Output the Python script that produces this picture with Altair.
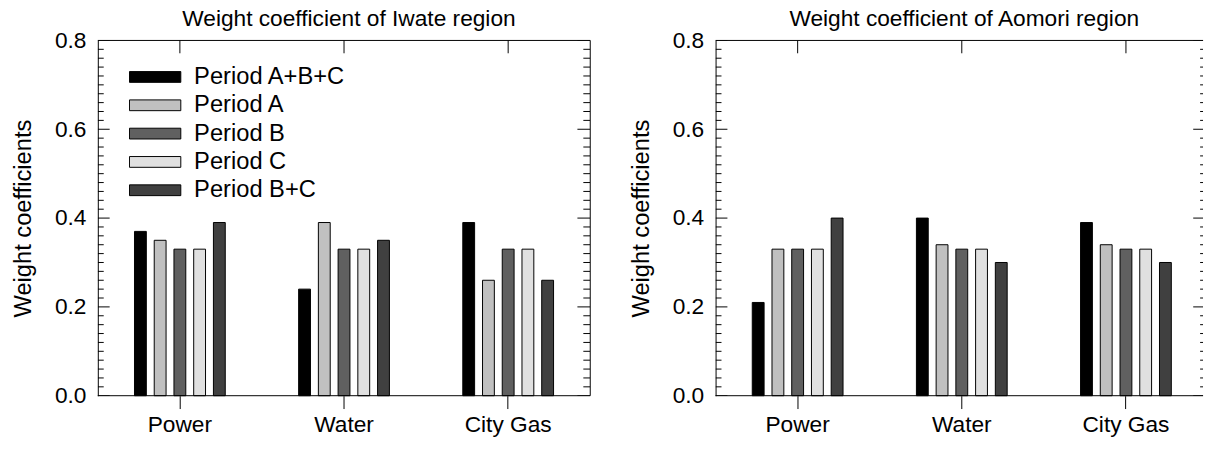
import altair as alt
import pandas as pd

# ---------------- data ----------------
categories = ["Power", "Water", "City Gas"]
periods = ["Period A+B+C", "Period A", "Period B", "Period C", "Period B+C"]
bar_colors = ["#000000", "#c0c0c0", "#606060", "#e0e0e0", "#404040"]

iwate_abc = [0.37, 0.24, 0.39]
iwate_a = [0.35, 0.39, 0.26]
iwate_b = [0.33, 0.33, 0.33]
iwate_c = [0.33, 0.33, 0.33]
iwate_bc = [0.39, 0.35, 0.26]

aomori_abc = [0.21, 0.40, 0.39]
aomori_a = [0.33, 0.34, 0.34]
aomori_b = [0.33, 0.33, 0.33]
aomori_c = [0.33, 0.33, 0.33]
aomori_bc = [0.40, 0.30, 0.30]

y_labels = [0.0, 0.2, 0.4, 0.6, 0.8]
minor_ticks = [round(i * 0.02, 2) for i in range(41) if i % 10 != 0]

FONT = "Liberation Sans"
FS = 23
PW = 499  # band range width of a panel
PH = 360


def table(series):
    rows = []
    for period, vals in zip(periods, series):
        for cat, v in zip(categories, vals):
            rows.append({"category": cat, "period": period, "value": v})
    return pd.DataFrame(rows)


iwate = table([iwate_abc, iwate_a, iwate_b, iwate_c, iwate_bc])
aomori = table([aomori_abc, aomori_a, aomori_b, aomori_c, aomori_bc])

y_scale = alt.Scale(domain=[0, 0.8], nice=False, zero=True)
x_scale = alt.Scale(domain=categories, range=[0, PW], paddingInner=0.447, paddingOuter=0.2235)
x_axis = alt.Axis(labelAngle=0, labelFont=FONT, labelFontSize=FS, labelColor="black",
                  labelPadding=5, ticks=True, tickSize=13, tickColor="black", tickWidth=1,
                  domain=False, grid=False, title=None)
y_axis = alt.Axis(values=y_labels, format=".1f", ticks=False, tickSize=0, grid=False,
                  domain=True, domainColor="black", domainWidth=1,
                  labelFont=FONT, labelFontSize=FS, labelColor="black", labelPadding=12,
                  title="Weight coefficients", titleFont=FONT, titleFontSize=24,
                  titleFontWeight="normal", titleColor="black", titlePadding=19)


def panel(df, title, show_legend, view_w, full_frame):
    if show_legend:
        legend = alt.Legend(title=None, orient="none", legendX=31.6, legendY=25, padding=0,
                            symbolType="M-1,-0.21H1V0.21H-1Z", symbolSize=2704,
                            symbolStrokeColor="black", symbolStrokeWidth=1,
                            clipHeight=24, rowPadding=4.7, labelOffset=13,
                            labelFont=FONT, labelFontSize=24, labelColor="black")
    else:
        legend = None

    bars = alt.Chart(df).mark_bar(stroke="black", strokeWidth=1).encode(
        x=alt.X("category:N", sort=categories, scale=x_scale, axis=x_axis),
        xOffset=alt.XOffset("period:N", sort=periods,
                            scale=alt.Scale(domain=periods, paddingInner=0.4, paddingOuter=0)),
        y=alt.Y("value:Q", scale=y_scale, axis=y_axis),
        color=alt.Color("period:N", sort=periods,
                        scale=alt.Scale(domain=periods, range=bar_colors), legend=legend),
    )

    cat_df = pd.DataFrame({"category": categories})
    top_ticks = alt.Chart(cat_df).mark_rule(color="black", strokeWidth=1).encode(
        x=alt.X("category:N", sort=categories, bandPosition=0.5, scale=x_scale, axis=x_axis),
        y=alt.value(0), y2=alt.value(13))

    major_df = pd.DataFrame({"v": y_labels})
    minor_df = pd.DataFrame({"v": minor_ticks})

    def yrule(data, x0, x1):
        return alt.Chart(data).mark_rule(color="black", strokeWidth=1, clip=True).encode(
            y=alt.Y("v:Q", scale=y_scale, axis=y_axis), x=alt.value(x0), x2=alt.value(x1))

    one = pd.DataFrame({"k": [0]})
    top_line = alt.Chart(one).mark_rule(color="black", strokeWidth=1).encode(
        x=alt.value(0), x2=alt.value(view_w), y=alt.value(0))
    bottom_line = alt.Chart(one).mark_rule(color="black", strokeWidth=1).encode(
        x=alt.value(0), x2=alt.value(view_w), y=alt.value(PH))

    if full_frame:
        right_major, right_minor = 13, 7
    else:
        # right frame edge lies just beyond the picture: only the tick stubs show
        right_major, right_minor = 10, 3

    layers = [bars, top_ticks,
              yrule(major_df, 0, 12), yrule(minor_df, 0, 6),
              yrule(major_df, view_w, view_w - right_major),
              yrule(minor_df, view_w, view_w - right_minor),
              top_line, bottom_line]
    if full_frame:
        right_line = alt.Chart(one).mark_rule(color="black", strokeWidth=1).encode(
            x=alt.value(view_w), y=alt.value(0), y2=alt.value(PH))
        layers.append(right_line)

    return alt.layer(*layers).properties(
        width=view_w, height=PH,
        title=alt.Title(title, font=FONT, fontSize=FS, fontWeight="normal", color="black",
                        offset=-1, dx=5),
    )


left = panel(iwate, "Weight coefficient of Iwate region", True, PW, True)
right = panel(aomori, "Weight coefficient of Aomori region", False, 494, False)

chart = alt.hconcat(left, right, spacing=38).resolve_scale(color="independent").properties(
    padding={"top": -4, "left": 3, "right": 0, "bottom": 0}
).configure_view(stroke="transparent")

chart.save("out.html", embed_options={"renderer": "svg", "actions": False})
